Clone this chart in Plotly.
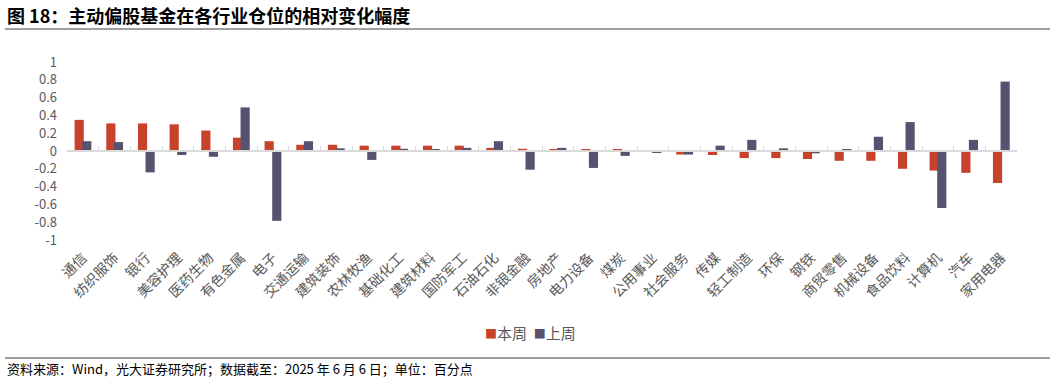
import plotly.graph_objects as go

categories = ["通信", "纺织服饰", "银行", "美容护理", "医药生物", "有色金属", "电子", "交通运输",
              "建筑装饰", "农林牧渔", "基础化工", "建筑材料", "国防军工", "石油石化", "非银金融",
              "房地产", "电力设备", "煤炭", "公用事业", "社会服务", "传媒", "轻工制造", "环保",
              "钢铁", "商贸零售", "机械设备", "食品饮料", "计算机", "汽车", "家用电器"]
this_week = [0.35, 0.31, 0.31, 0.30, 0.23, 0.15, 0.11, 0.07, 0.07, 0.06, 0.06, 0.06, 0.06,
             0.035, 0.025, 0.015, 0.015, 0.015, 0.005, -0.04, -0.045, -0.08, -0.08, -0.09,
             -0.11, -0.11, -0.20, -0.22, -0.245, -0.36]
last_week = [0.11, 0.10, -0.24, -0.045, -0.065, 0.49, -0.785, 0.11, 0.03, -0.10, 0.025, 0.015,
             0.035, 0.11, -0.21, 0.035, -0.19, -0.055, -0.02, -0.04, 0.06, 0.125, 0.03, -0.026,
             0.02, 0.16, 0.325, -0.64, 0.125, 0.78]
y_ticks = [1, 0.8, 0.6, 0.4, 0.2, 0, -0.2, -0.4, -0.6, -0.8, -1]
y_tick_text = ["1", "0.8", "0.6", "0.4", "0.2", "0", "-0.2", "-0.4", "-0.6", "-0.8", "-1"]
series_names = ["本周", "上周"]

RED = "#C8412A"
BLUE = "#56526F"
FONT = "Noto Sans CJK SC"

# plot area in pixels: x 67..1017, y 62..240
L, R_, T, B = 67, 1017, 62, 240
PW, PH = R_ - L, B - T


def px(x):
    return (x - L) / PW


def py(y):
    return (B - y) / PH


fig = go.Figure()
fig.add_trace(go.Bar(x=categories, y=this_week, name=series_names[0],
                     marker=dict(color=RED, line=dict(width=0)), width=0.29, offset=-0.26))
fig.add_trace(go.Bar(x=categories, y=last_week, name=series_names[1],
                     marker=dict(color=BLUE, line=dict(width=0)), width=0.29, offset=-0.02))
# invisible helper trace for the zero-line axis with tick marks
fig.add_trace(go.Scatter(x=categories, y=[0] * len(categories), xaxis="x2", mode="markers",
                         marker=dict(opacity=0), showlegend=False, hoverinfo="skip"))

fig.update_layout(
    width=1055, height=381,
    margin=dict(l=L, r=1055 - R_, t=T, b=381 - B),
    paper_bgcolor="white", plot_bgcolor="white",
    font=dict(family=FONT, color="#595959"),
    barmode="overlay",
    showlegend=False,
    xaxis=dict(type="category", categoryorder="array", categoryarray=categories,
               range=[-0.5, len(categories) - 0.5], showline=False, ticks="", showgrid=False,
               tickangle=-45, ticklabelstandoff=6,
               tickfont=dict(size=14, color="#595959", family=FONT)),
    xaxis2=dict(type="category", categoryorder="array", categoryarray=categories,
                range=[-0.5, len(categories) - 0.5], overlaying="x", anchor="free", position=0.5,
                side="bottom", showline=True, linecolor="#D9D9D9", linewidth=1.5,
                ticks="inside", tickson="boundaries", ticklen=4, tickcolor="#D9D9D9", tickwidth=1,
                showticklabels=False, showgrid=False, layer="above traces"),
    yaxis=dict(range=[-1, 1], tickvals=y_ticks, ticktext=y_tick_text, showgrid=False,
               zeroline=False, showline=False, ticks="", ticklabelstandoff=9,
               tickfont=dict(size=13, color="#595959", family=FONT)),
)

# legend drawn as text with coloured squares
legend_text = (f'<span style="color:{RED};font-size:12px">■</span>{series_names[0]}  '
               f'<span style="color:{BLUE};font-size:12px">■</span>{series_names[1]}')
fig.add_annotation(text=legend_text, xref="paper", yref="paper", x=px(530), y=py(332),
                   xanchor="center", yanchor="middle", showarrow=False,
                   font=dict(size=15, color="#595959", family=FONT))

# title and footer
fig.add_annotation(text="<b>图 18：主动偏股基金在各行业仓位的相对变化幅度</b>", xref="paper", yref="paper",
                   x=px(5), y=py(15), xanchor="left", yanchor="middle",
                   showarrow=False, font=dict(size=18, color="#000000", family=FONT))
fig.add_annotation(text="资料来源：Wind，光大证券研究所；数据截至：2025 年 6 月 6 日；单位：百分点",
                   xref="paper", yref="paper", x=px(5), y=py(368),
                   xanchor="left", yanchor="middle", showarrow=False,
                   font=dict(size=13, color="#000000", family=FONT))
fig.add_shape(type="line", xref="paper", yref="paper", x0=px(5), x1=px(1050),
              y0=py(29), y1=py(29), line=dict(color="#7F7F7F", width=1.5))
fig.add_shape(type="line", xref="paper", yref="paper", x0=px(5), x1=px(1050),
              y0=py(358), y1=py(358), line=dict(color="#404040", width=1.2))

fig.write_html("out.html")
